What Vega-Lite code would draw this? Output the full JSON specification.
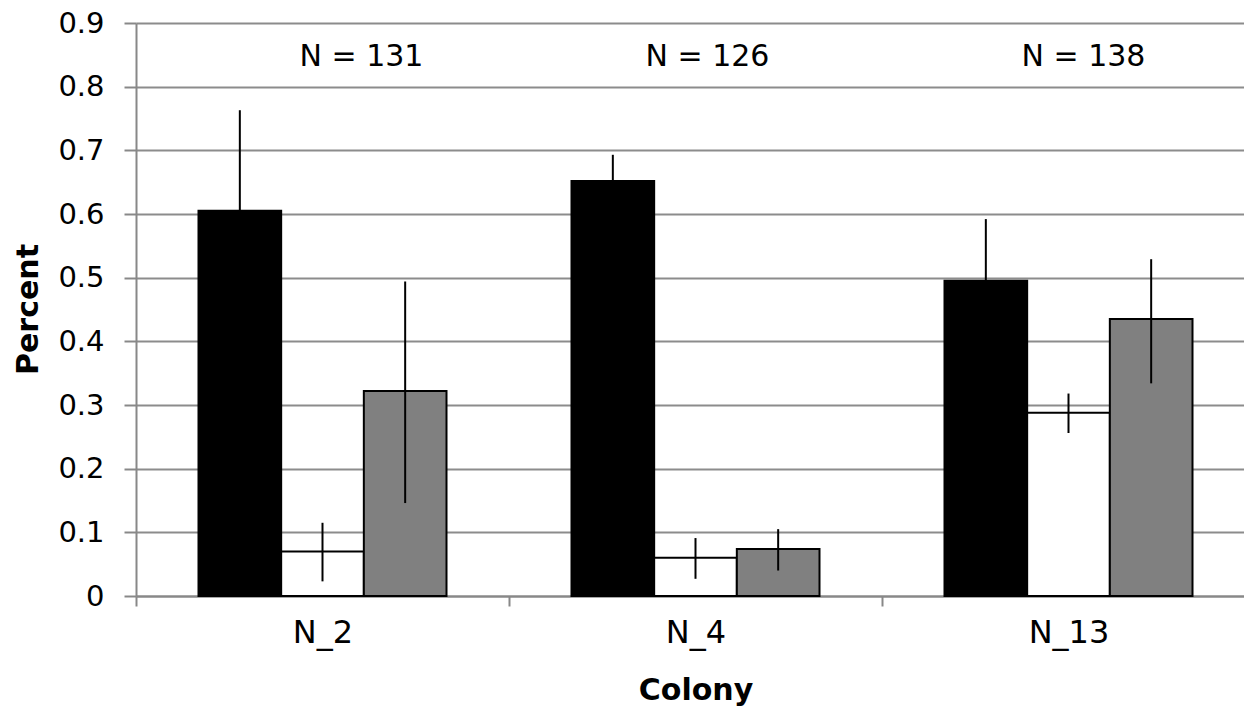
{
  "$schema": "https://vega.github.io/schema/vega-lite/v6.json",
  "width": 1108,
  "height": 573,
  "autosize": "none",
  "padding": {"left": 136, "top": 23, "right": 0, "bottom": 111},
  "background": "white",
  "config": {
    "view": {"stroke": null},
    "axis": {
      "labelFont": "DejaVu Sans",
      "titleFont": "DejaVu Sans",
      "labelColor": "#000000",
      "titleColor": "#000000",
      "domainColor": "#888888",
      "domainWidth": 2,
      "tickColor": "#888888",
      "tickWidth": 2,
      "gridColor": "#8c8c8c",
      "gridWidth": 2
    }
  },
  "data": {
    "values": [
      {"colony": "N_2", "type": "Black", "value": 0.605, "lo": 0.447, "hi": 0.763},
      {"colony": "N_2", "type": "White", "value": 0.070, "lo": 0.023, "hi": 0.115},
      {"colony": "N_2", "type": "Grey", "value": 0.322, "lo": 0.146, "hi": 0.494},
      {"colony": "N_4", "type": "Black", "value": 0.652, "lo": 0.611, "hi": 0.693},
      {"colony": "N_4", "type": "White", "value": 0.060, "lo": 0.027, "hi": 0.091},
      {"colony": "N_4", "type": "Grey", "value": 0.074, "lo": 0.040, "hi": 0.105},
      {"colony": "N_13", "type": "Black", "value": 0.495, "lo": 0.398, "hi": 0.592},
      {"colony": "N_13", "type": "White", "value": 0.288, "lo": 0.256, "hi": 0.318},
      {"colony": "N_13", "type": "Grey", "value": 0.435, "lo": 0.334, "hi": 0.529}
    ]
  },
  "encoding": {
    "x": {
      "field": "colony",
      "type": "nominal",
      "sort": ["N_2", "N_4", "N_13"],
      "scale": {"range": [0, 1119], "paddingInner": 0, "paddingOuter": 0},
      "axis": {
        "title": "Colony",
        "titleFontSize": 30,
        "titleFontWeight": "bold",
        "titleX": 559.5,
        "titleY": 94,
        "titleBaseline": "middle",
        "titleAlign": "center",
        "labelAngle": 0,
        "labelFontSize": 32,
        "labelPadding": 11,
        "tickSize": 10,
        "tickBand": "extent",
        "grid": false
      }
    }
  },
  "layer": [
    {
      "mark": {"type": "bar", "stroke": "#000000", "strokeWidth": 2},
      "encoding": {
        "xOffset": {
          "field": "type",
          "type": "nominal",
          "sort": ["Black", "White", "Grey"],
          "scale": {"paddingInner": 0, "paddingOuter": 0.756}
        },
        "y": {
          "field": "value",
          "type": "quantitative",
          "scale": {"domain": [0, 0.9], "nice": false, "zero": true},
          "axis": {
            "title": "Percent",
            "titleFontSize": 30,
            "titleFontWeight": "bold",
            "titleX": -108,
            "titleY": 286,
            "titleAngle": -90,
            "titleAlign": "center",
            "titleBaseline": "middle",
            "values": [0, 0.1, 0.2, 0.3, 0.4, 0.5, 0.6, 0.7, 0.8, 0.9],
            "format": "~g",
            "labelFontSize": 29,
            "labelPadding": 20,
            "tickSize": 12,
            "grid": true
          }
        },
        "color": {
          "field": "type",
          "type": "nominal",
          "scale": {"domain": ["Black", "White", "Grey"], "range": ["#000000", "#ffffff", "#808080"]},
          "legend": null
        }
      }
    },
    {
      "mark": {"type": "rule", "color": "#000000", "strokeWidth": 2},
      "encoding": {
        "xOffset": {
          "field": "type",
          "type": "nominal",
          "sort": ["Black", "White", "Grey"]
        },
        "y": {"field": "lo", "type": "quantitative"},
        "y2": {"field": "hi"}
      }
    },
    {
      "data": {"values": [{"colony": "N_2", "label": "N = 131"}]},
      "mark": {"type": "text", "font": "DejaVu Sans", "fontSize": 30, "baseline": "alphabetic", "align": "center", "dx": 39, "color": "#000000"},
      "encoding": {"y": {"datum": 0.832, "type": "quantitative"}, "text": {"field": "label"}}
    },
    {
      "data": {"values": [{"colony": "N_4", "label": "N = 126"}]},
      "mark": {"type": "text", "font": "DejaVu Sans", "fontSize": 30, "baseline": "alphabetic", "align": "center", "dx": 12, "color": "#000000"},
      "encoding": {"y": {"datum": 0.832, "type": "quantitative"}, "text": {"field": "label"}}
    },
    {
      "data": {"values": [{"colony": "N_13", "label": "N = 138"}]},
      "mark": {"type": "text", "font": "DejaVu Sans", "fontSize": 30, "baseline": "alphabetic", "align": "center", "dx": 15, "color": "#000000"},
      "encoding": {"y": {"datum": 0.832, "type": "quantitative"}, "text": {"field": "label"}}
    }
  ]
}
